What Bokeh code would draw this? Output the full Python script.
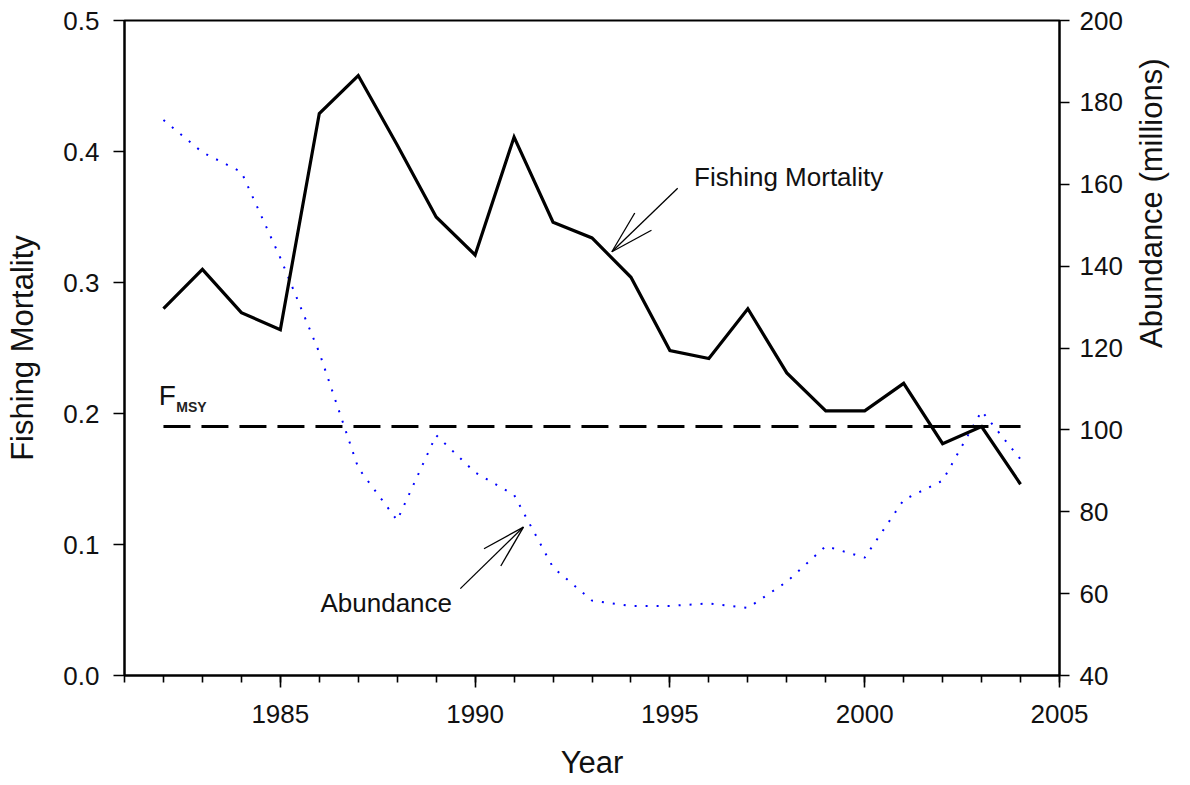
import math
from bokeh.plotting import figure
from bokeh.models import (Range1d, LinearAxis, FixedTicker, SingleIntervalTicker,
                          PrintfTickFormatter, Label)
from bokeh.embed import file_html
from bokeh.resources import INLINE

# ---------------- data ----------------
years = list(range(1982, 2005))
fishing_mortality = [0.280, 0.310, 0.277, 0.264, 0.429, 0.458, 0.405, 0.350, 0.321,
                     0.411, 0.346, 0.334, 0.304, 0.248, 0.242, 0.280, 0.231, 0.202,
                     0.202, 0.223, 0.177, 0.190, 0.146]
abundance = [175.7, 167.8, 163.0, 142.0, 118.9, 90.7, 77.9, 98.7, 89.6, 84.1, 66.4,
             58.3, 57.0, 57.0, 57.6, 56.5, 62.9, 71.6, 68.8, 82.9, 87.6, 104.6, 92.8]
fmsy_years = [1982, 2004]
fmsy_value = 0.19

f_ticks = [0.0, 0.1, 0.2, 0.3, 0.4, 0.5]
abund_ticks = [40, 60, 80, 100, 120, 140, 160, 180, 200]

X_START, X_END = 1981, 2005
F_START, F_END = 0.0, 0.5
A_START, A_END = 40, 200

FONT = "Liberation Sans"

# ---------------- figure ----------------
W, H = 1190, 783
BL, BR, BT, BB = 124, 131, 20, 108
p = figure(width=W, height=H, output_backend="svg", toolbar_location=None,
           x_range=Range1d(X_START, X_END), y_range=Range1d(F_START, F_END),
           min_border_left=BL, min_border_right=BR, min_border_top=BT,
           min_border_bottom=BB, x_axis_label="Year", y_axis_label="Fishing Mortality")
p.extra_y_ranges = {"abund": Range1d(A_START, A_END)}
p.grid.visible = False
p.outline_line_color = "black"
p.outline_line_width = 2
p.background_fill_color = "white"
p.border_fill_color = "white"

right = LinearAxis(y_range_name="abund", axis_label="Abundance (millions)")
p.add_layout(right, "right")

xa = p.xaxis[0]
ya = p.yaxis[0]

xa.ticker = SingleIntervalTicker(interval=5, num_minor_ticks=5)
ya.ticker = FixedTicker(ticks=f_ticks)
ya.formatter = PrintfTickFormatter(format="%.1f")
right.ticker = FixedTicker(ticks=abund_ticks)

for ax in (xa, ya, right):
    ax.axis_line_color = "black"
    ax.axis_line_width = 2
    ax.major_tick_line_color = "black"
    ax.major_tick_line_width = 1.6
    ax.minor_tick_line_color = "black"
    ax.minor_tick_line_width = 1.6
    ax.major_tick_in = 0
    ax.minor_tick_in = 0
    ax.major_label_text_font = FONT
    ax.major_label_text_font_size = "26px"
    ax.major_label_text_color = "#111111"
    ax.axis_label_text_font = FONT
    ax.axis_label_text_font_size = "31px"
    ax.axis_label_text_font_style = "normal"
    ax.axis_label_text_color = "#111111"

xa.major_tick_out = 12
xa.minor_tick_out = 7
xa.major_label_standoff = 17
xa.axis_label_standoff = 19

ya.major_tick_out = 11
ya.minor_tick_line_color = None
ya.major_label_standoff = 14
ya.axis_label_standoff = 20

right.major_tick_out = 10
right.minor_tick_line_color = None
right.major_label_standoff = 10
right.axis_label_standoff = 26
right.axis_label_orientation = math.pi / 2

# ---------------- series ----------------
p.line(years, abundance, y_range_name="abund", line_color="#0000FF",
       line_width=2, line_dash="2 9")
p.line(fmsy_years, [fmsy_value, fmsy_value], line_color="black", line_width=3,
       line_dash="27 11")
p.line(years, fishing_mortality, line_color="black", line_width=3.2,
       line_join="miter")

# ---------------- annotations ----------------
frame_w = W - BL - BR
frame_h = H - BT - BB
px_x = frame_w / (X_END - X_START)
px_y = frame_h / (F_END - F_START)


def arrow(tail, tip, head_len=45, half_angle=math.radians(15.5)):
    tx, ty = tail[0] * px_x, tail[1] * px_y
    hx, hy = tip[0] * px_x, tip[1] * px_y
    ang = math.atan2(ty - hy, tx - hx)
    x0, y0, x1, y1 = [tail[0]], [tail[1]], [tip[0]], [tip[1]]
    for s in (1, -1):
        a = ang + s * half_angle
        bx = (hx + head_len * math.cos(a)) / px_x
        by = (hy + head_len * math.sin(a)) / px_y
        x0.append(tip[0]); y0.append(tip[1]); x1.append(bx); y1.append(by)
    p.segment(x0=x0, y0=y0, x1=x1, y1=y1, line_color="black", line_width=1.3)


fm_label_pos = (1995.62, 0.3805)
fm_arrow_tail = (1995.20, 0.3719)
fm_arrow_tip = (1993.51, 0.3235)
ab_label_pos = (1986.03, 0.0553)
ab_arrow_tail = (1989.62, 0.0663)
ab_arrow_tip = (1991.24, 0.1133)

arrow(fm_arrow_tail, fm_arrow_tip)
arrow(ab_arrow_tail, ab_arrow_tip)

for txt, pos in (("Fishing Mortality", fm_label_pos), ("Abundance", ab_label_pos)):
    p.add_layout(Label(x=pos[0], y=pos[1], text=txt, text_font=FONT,
                       text_font_size="26px", text_color="#111111",
                       text_baseline="alphabetic", text_align="left"))

fmsy_label_pos = (1981.88, 0.2140)
fmsy_sub_pos = (1982.33, 0.2046)
p.add_layout(Label(x=fmsy_label_pos[0], y=fmsy_label_pos[1], text="F", text_font=FONT,
                   text_font_size="28px", text_color="#111111",
                   text_baseline="alphabetic"))
p.add_layout(Label(x=fmsy_sub_pos[0], y=fmsy_sub_pos[1], text="MSY", text_font=FONT,
                   text_font_size="14px", text_font_style="bold", text_color="#222222",
                   text_baseline="alphabetic"))

open("out.html", "w").write(file_html(p, INLINE))
